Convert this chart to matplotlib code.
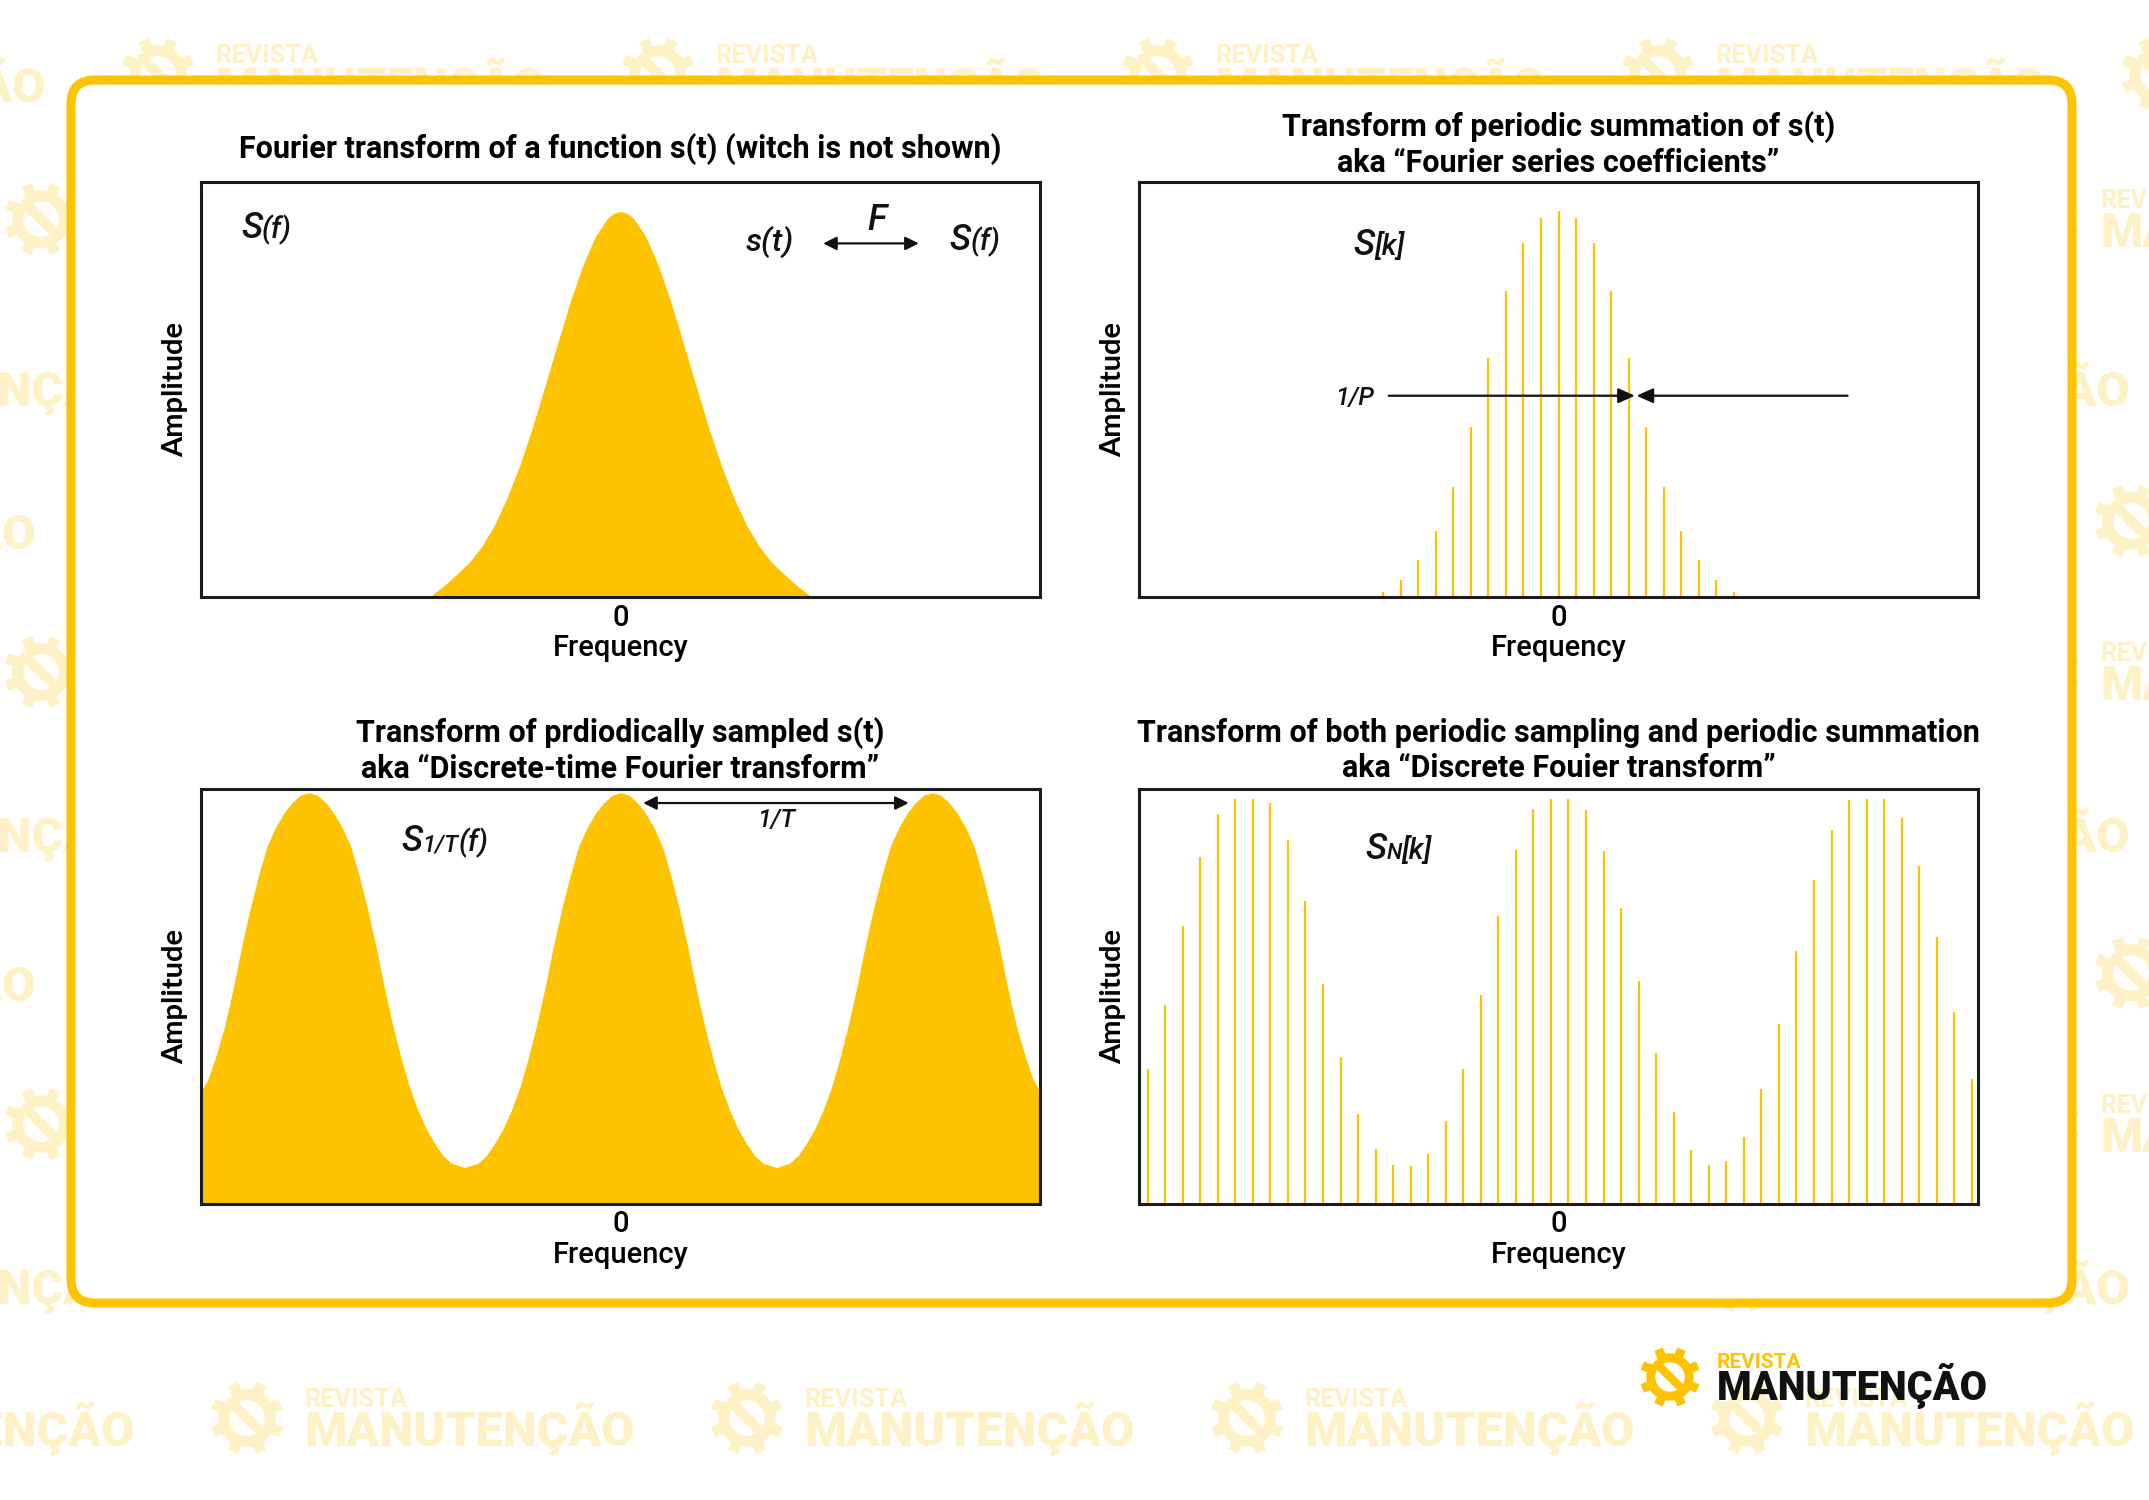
import numpy as np
import matplotlib
matplotlib.use("Agg")
import matplotlib.pyplot as plt
from matplotlib.patches import FancyBboxPatch, Circle

YELLOW = "#FDC300"
PALE = "#FEF1C6"
INK = "#111111"

W, H = 2149, 1500

# panel 1: S(f), continuous spectrum (axis runs -1..1)
sf_freq = [-0.455, -0.44, -0.42, -0.39, -0.36, -0.33, -0.30, -0.27, -0.24, -0.21, -0.18,
           -0.15, -0.12, -0.09, -0.06, -0.03, -0.015, 0.0, 0.015, 0.03, 0.06, 0.09, 0.12,
           0.15, 0.18, 0.21, 0.24, 0.27, 0.30, 0.33, 0.36, 0.39, 0.42, 0.44, 0.455]
sf_amp = [0.0, 0.012, 0.028, 0.055, 0.084, 0.123, 0.174, 0.240, 0.318, 0.409, 0.509,
          0.611, 0.711, 0.799, 0.869, 0.914, 0.925, 0.929, 0.925, 0.914, 0.869, 0.799, 0.711,
          0.611, 0.509, 0.409, 0.318, 0.240, 0.174, 0.123, 0.084, 0.055, 0.028, 0.012, 0.0]

# panel 2: S[k], Fourier series coefficients
fs_bins = list(range(-10, 11))
fs_amp = [0.013, 0.041, 0.089, 0.160, 0.265, 0.409, 0.576, 0.738, 0.854, 0.914, 0.929,
          0.914, 0.854, 0.738, 0.576, 0.409, 0.265, 0.160, 0.089, 0.041, 0.013]

# panel 3: S_1/T(f), discrete-time Fourier transform (peaks near -0.743, 0, 0.743)
dtft_freq = [-1.0, -0.983, -0.963, -0.943, -0.923, -0.903, -0.883, -0.863, -0.843,
             -0.823, -0.803, -0.783, -0.763, -0.743, -0.723, -0.703, -0.683, -0.663,
             -0.643, -0.623, -0.603, -0.583, -0.563, -0.543, -0.523, -0.503, -0.483,
             -0.463, -0.443, -0.423, -0.403, -0.3715, -0.34, -0.32, -0.30, -0.28, -0.26,
             -0.24, -0.22, -0.20, -0.18, -0.16, -0.14, -0.12, -0.10, -0.08, -0.06, -0.04,
             -0.02, 0.0, 0.02, 0.04, 0.06, 0.08, 0.10, 0.12, 0.14, 0.16, 0.18, 0.20, 0.22,
             0.24, 0.26, 0.28, 0.30, 0.32, 0.34, 0.3715, 0.403, 0.423, 0.443, 0.463, 0.483,
             0.503, 0.523, 0.543, 0.563, 0.583, 0.603, 0.623, 0.643, 0.663, 0.683, 0.703,
             0.723, 0.743, 0.763, 0.783, 0.803, 0.823, 0.843, 0.863, 0.883, 0.903, 0.923,
             0.943, 0.963, 0.983, 1.0]
dtft_amp = [0.27, 0.30, 0.36, 0.43, 0.52, 0.62, 0.71, 0.79, 0.86, 0.905, 0.94, 0.966,
            0.984, 0.99, 0.984, 0.966, 0.94, 0.905, 0.86, 0.79, 0.71, 0.62, 0.52, 0.43,
            0.35, 0.28, 0.225, 0.18, 0.145, 0.115, 0.097, 0.087, 0.097, 0.115, 0.145,
            0.18, 0.225, 0.28, 0.35, 0.43, 0.52, 0.62, 0.71, 0.79, 0.86, 0.905, 0.94,
            0.966, 0.984, 0.99, 0.984, 0.966, 0.94, 0.905, 0.86, 0.79, 0.71, 0.62, 0.52,
            0.43, 0.35, 0.28, 0.225, 0.18, 0.145, 0.115, 0.097, 0.087, 0.097, 0.115,
            0.145, 0.18, 0.225, 0.28, 0.35, 0.43, 0.52, 0.62, 0.71, 0.79, 0.86, 0.905,
            0.94, 0.966, 0.984, 0.99, 0.984, 0.966, 0.94, 0.905, 0.86, 0.79, 0.71, 0.62,
            0.52, 0.43, 0.36, 0.30, 0.27]

# panel 4: S_N[k], discrete Fourier transform
dft_bins = list(range(-23, 25))
dft_amp = [0.323, 0.479, 0.669, 0.835, 0.939, 0.975, 0.975, 0.964, 0.875, 0.728,
           0.530, 0.354, 0.215, 0.132, 0.093, 0.090, 0.120, 0.200, 0.325, 0.503,
           0.693, 0.853, 0.951, 0.975, 0.975, 0.947, 0.850, 0.711, 0.535, 0.362,
           0.221, 0.129, 0.092, 0.102, 0.161, 0.277, 0.432, 0.608, 0.779, 0.900,
           0.973, 0.975, 0.975, 0.929, 0.813, 0.641, 0.461, 0.301]

BIN = 0.0418       # spacing of the coefficients on the -1..1 frequency axis
DFT_SHIFT = -0.43  # DFT comb sits a fraction of a bin off zero

titles = [
    "Fourier transform of a function s(t) (witch is not shown)",
    "Transform of periodic summation of s(t)\naka \u201cFourier series coefficients\u201d",
    "Transform of prdiodically sampled s(t)\naka \u201cDiscrete-time Fourier transform\u201d",
    "Transform of both periodic sampling and periodic summation\naka \u201cDiscrete Fouier transform\u201d",
]

plt.rcParams["font.family"] = ["Roboto", "DejaVu Sans"]

fig = plt.figure(figsize=(W / 100, H / 100), dpi=100)
fig.patch.set_facecolor("white")
renderer = fig.canvas.get_renderer()

# background layer in pixel coordinates
bg = fig.add_axes([0, 0, 1, 1], zorder=-1)
bg.set_xlim(0, W)
bg.set_ylim(H, 0)
bg.axis("off")


def draw_logo(ax, gx, gy, s, gear_c, rev_c, man_c, z=1):
    r = 23 * s
    for ang in np.arange(22.5, 360, 45):
        a = np.radians(ang)
        ax.plot([gx, gx + (r + 7 * s) * np.cos(a)], [gy, gy + (r + 7 * s) * np.sin(a)],
                color=gear_c, lw=6.5 * s, solid_capstyle="butt", zorder=z)
    ax.add_patch(Circle((gx, gy), r, color=gear_c, zorder=z + 0.1))
    ax.add_patch(Circle((gx, gy), r - 9 * s, color="white", zorder=z + 0.2))
    # wrench through the gear
    ax.plot([gx - 1.25 * r, gx - 0.2 * r], [gy - 1.25 * r, gy - 0.2 * r], color="white",
            lw=5 * s, solid_capstyle="butt", zorder=z + 0.3)
    ax.plot([gx - 0.55 * r, gx + 0.35 * r], [gy - 0.55 * r, gy + 0.35 * r], color=gear_c,
            lw=6 * s, solid_capstyle="round", zorder=z + 0.4)
    ax.text(gx + 47 * s, gy - 9 * s, "REVISTA", color=rev_c, fontsize=15 * s,
            fontweight="bold", ha="left", va="baseline", zorder=z + 0.5)
    ax.text(gx + 47 * s, gy + 23 * s, "MANUTENÇÃO", color=man_c, fontsize=28.5 * s,
            fontweight="black", ha="left", va="baseline", zorder=z + 0.5)


# faint watermark tiles around the frame
wm = [(-342, 74), (158, 74), (658, 74), (1158, 74), (1658, 74), (2158, 74),
      (41, 219), (41, 672), (41, 1124), (2043, 219), (2043, 672), (2043, 1124),
      (-352, 521), (-352, 973), (2131, 521), (2131, 973),
      (-258, 378), (-258, 824), (-258, 1276), (1742, 378), (1742, 824), (1742, 1276),
      (-253, 1418), (247, 1418), (747, 1418), (1247, 1418), (1747, 1418)]
for gx, gy in wm:
    draw_logo(bg, gx, gy, 1.22, PALE, PALE, PALE)

frame = FancyBboxPatch((71, 80), 2001, 1223, boxstyle="round,pad=0,rounding_size=24",
                       fc="white", ec=YELLOW, lw=6.5, zorder=10)
bg.add_patch(frame)

# brand mark bottom right
draw_logo(bg, 1670, 1377, 1.0, YELLOW, YELLOW, INK, z=11)


def label_run(ax, x, y, parts):
    # italic pieces of different size set one after another on a common baseline
    for s, size in parts:
        t = ax.text(x, y, s, fontsize=size, fontstyle="italic", fontweight="medium",
                    ha="left", va="baseline", color=INK)
        bb = t.get_window_extent(renderer)
        x = ax.transData.inverted().transform((bb.x1, bb.y0))[0]


# four panels
AX_W, AX_H = 839 / W, 415 / H
positions = [(201 / W, 1 - 597 / H), (1139 / W, 1 - 597 / H),
             (201 / W, 1 - 1203.5 / H), (1139 / W, 1 - 1203.5 / H)]
axes = []
for (x0, y0), title in zip(positions, titles):
    ax = fig.add_axes([x0, y0, AX_W, AX_H])
    ax.set_xlim(-1, 1)
    ax.set_ylim(0, 1)
    for sp in ax.spines.values():
        sp.set_linewidth(2.2)
        sp.set_color("#1c1c1c")
        sp.set_zorder(5)
    ax.set_yticks([])
    ax.set_xticks([0])
    ax.set_xticklabels(["0"])
    ax.tick_params(axis="x", length=0, pad=5, labelsize=21)
    for lab in ax.get_xticklabels():
        lab.set_fontweight("medium")
    ax.set_xlabel("Frequency", fontsize=21, fontweight="medium")
    ax.xaxis.set_label_coords(0.5, -0.123)
    ax.xaxis.label.set_va("center")
    ax.set_ylabel("Amplitude", fontsize=21, fontweight="bold", family=["Lato", "DejaVu Sans"])
    ax.yaxis.set_label_coords(-0.031, 0.5)
    ax.yaxis.label.set_va("center")
    nlines = title.count("\n") + 1
    ax.text(0.5, 1.0795 if nlines == 1 else 1.091, title, transform=ax.transAxes,
            ha="center", va="center", fontsize=22, fontweight="bold", linespacing=1.22)
    axes.append(ax)

ax1, ax2, ax3, ax4 = axes
arrow = dict(color=INK, lw=1.6, shrinkA=0, shrinkB=0)
itl = dict(fontstyle="italic", fontweight="medium", color=INK, va="baseline")

# panel 1
ax1.fill_between(sf_freq, 0, sf_amp, color=YELLOW, lw=0)
label_run(ax1, -0.9047, 0.865, [("S", 26), ("(f)", 21)])
ax1.text(0.299, 0.834, "s(t)", fontsize=23, ha="left", **itl)
ax1.text(0.589, 0.884, "F", fontsize=26, ha="left", **itl)
label_run(ax1, 0.7846, 0.836, [("S", 26), ("(f)", 21)])
ax1.annotate("", xy=(0.711, 0.852), xytext=(0.483, 0.852),
             arrowprops=dict(arrowstyle="<|-|>,head_length=0.8,head_width=0.4", **arrow))

# panel 2
ax2.vlines(np.array(fs_bins) * BIN, 0, fs_amp, color=YELLOW, lw=1.6)
label_run(ax2, -0.4887, 0.824, [("S", 26), ("[k]", 21)])
ax2.text(-0.487, 0.463, "1/P", fontsize=18, ha="center", **itl)
ax2.annotate("", xy=(0.182, 0.485), xytext=(-0.405, 0.485),
             arrowprops=dict(arrowstyle="-|>,head_length=1.0,head_width=0.45", **arrow))
ax2.annotate("", xy=(0.186, 0.485), xytext=(0.689, 0.485),
             arrowprops=dict(arrowstyle="-|>,head_length=1.0,head_width=0.45", **arrow))

# panel 3
ax3.fill_between(dtft_freq, 0, dtft_amp, color=YELLOW, lw=0)
label_run(ax3, -0.5232, 0.849, [("S", 26), ("1/T", 17), ("(f)", 21)])
ax3.text(0.371, 0.907, "1/T", fontsize=18, ha="center", **itl)
ax3.annotate("", xy=(0.687, 0.965), xytext=(0.054, 0.965),
             arrowprops=dict(arrowstyle="<|-|>,head_length=0.8,head_width=0.4", **arrow))

# panel 4
ax4.vlines((np.array(dft_bins) + DFT_SHIFT) * BIN, 0, dft_amp, color=YELLOW, lw=1.6)
label_run(ax4, -0.4608, 0.831, [("S", 26), ("N", 16), ("[k]", 21)])

fig.savefig("out.png", dpi=100, facecolor="white")
